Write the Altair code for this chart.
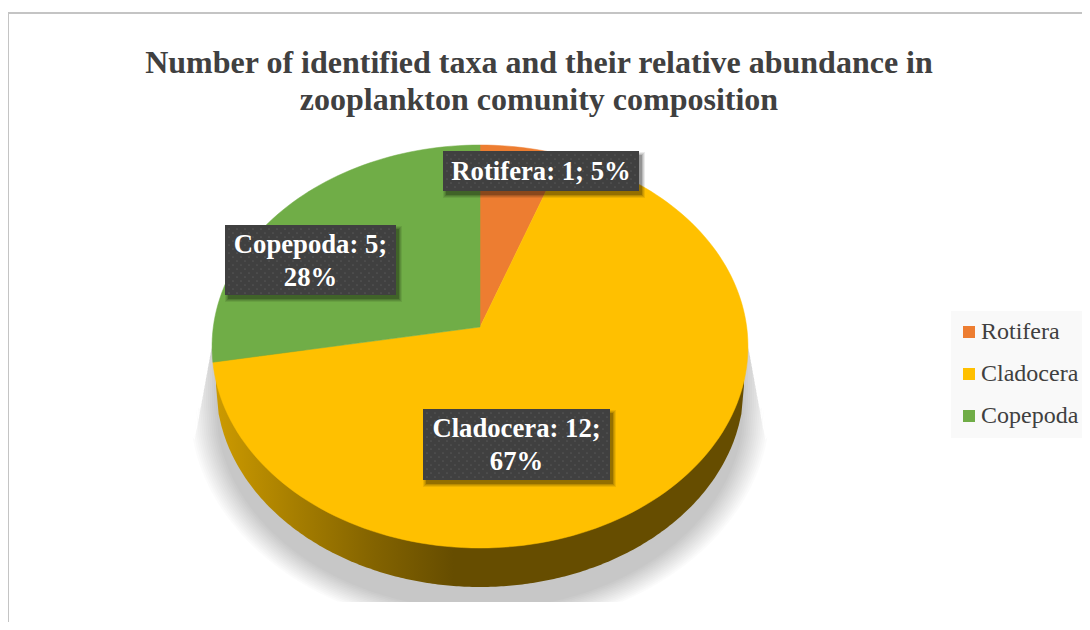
import math
import altair as alt
import pandas as pd

taxa = ["Rotifera", "Cladocera", "Copepoda"]
counts = [1, 12, 5]
colors = ["#ED7D31", "#FFC000", "#70AD47"]
label_texts = [["Rotifera: 1; 5%"], ["Cladocera: 12;", "67%"], ["Copepoda: 5;", "28%"]]
title_lines = ["Number of identified taxa and their relative abundance in",
               "zooplankton comunity composition"]

SERIF = "Liberation Serif"
W, H = 1074, 614
xs = alt.Scale(domain=[8, 8 + W], range=[0, W])
ys = alt.Scale(domain=[8, 8 + H], range=[0, H])
X = lambda f="x": alt.X(f + ":Q", scale=xs, axis=None)
Y = lambda f="y": alt.Y(f + ":Q", scale=ys, axis=None)

# perspective view of a circular disc
CX, CY = 480.0, 327.0
K, A, B = 0.0968, 266.7, 199.6
def project(theta):
    w = 1 + K * math.cos(theta)
    return CX + A * math.sin(theta) / w, CY - B * math.cos(theta) / w

rows = []
start = 0.0
total = sum(counts)
for name, c in zip(taxa, counts):
    sweep = c / total * 2 * math.pi
    steps = max(3, int(c * 12))
    order = 0
    rows.append(dict(taxon=name, x=CX, y=CY, o=order))
    for i in range(steps + 1):
        order += 1
        px, py = project(start + sweep * i / steps)
        rows.append(dict(taxon=name, x=px, y=py, o=order))
    order += 1
    rows.append(dict(taxon=name, x=CX, y=CY, o=order))
    start += sweep
slices = pd.DataFrame(rows)

slice_layer = alt.Chart(slices).mark_line(strokeWidth=0.5, interpolate="linear").encode(
    x=X(), y=Y(), order="o:Q",
    stroke=alt.Stroke("taxon:N", scale=alt.Scale(domain=taxa, range=colors), legend=None),
    fill=alt.Fill("taxon:N", scale=alt.Scale(domain=taxa, range=colors), legend=alt.Legend(
        title=None, orient="none", legendX=949, legendY=312, symbolType="square", symbolSize=144,
        labelFont=SERIF, labelFontSize=24, labelColor="#404040",
        rowPadding=18, padding=0, symbolOpacity=1, symbolStrokeWidth=0, labelOffset=0,
        zindex=1)),
)

# legend background
legend_bg = alt.Chart(pd.DataFrame({"x": [951], "x2": [1089], "y": [311], "y2": [438]})).mark_rect(
    color="#F9F9F9").encode(x=X(), x2="x2:Q", y=Y(), y2="y2:Q")

# side wall: lower disc
wall = pd.DataFrame([
    dict(x=480 + 264 * (i / 100 - 1), y=385.5 + 201.5 * math.sqrt(max(0, 1 - (i / 100 - 1) ** 2)), y2=350.0)
    for i in range(201)
])
wall_layer = alt.Chart(wall).mark_area(
    interpolate="linear",
    color=alt.Gradient(gradient="linear", x1=0, x2=1, y1=0, y2=0, stops=[
        alt.GradientStop(offset=0, color="#CC9A00"),
        alt.GradientStop(offset=0.15, color="#A67E00"),
        alt.GradientStop(offset=0.3, color="#836300"),
        alt.GradientStop(offset=0.45, color="#664D00"),
        alt.GradientStop(offset=1, color="#664D00"),
    ]),
).encode(x=X(), y=Y(), y2="y2:Q")

# soft grey shadow under the disc
shadow_layers = []
for grow in range(26, -1, -2):
    rx, ry = 264 + grow, 201.5 + grow * 0.8
    pts = []
    for i in range(241):
        u = i / 120 - 1
        px = 480 + rx * u
        top = 345 + 110 * max(0, (abs(u) * rx - 268) / 20)
        bottom = min(602, 408 + ry * math.sqrt(max(0, 1 - u * u)))
        pts.append(dict(x=px, y=bottom, y2=min(top, bottom)))
    shadow_layers.append(alt.Chart(pd.DataFrame(pts)).mark_area(color="#000000", opacity=0.016, interpolate="linear")
                         .encode(x=X(), y=Y(), y2="y2:Q"))

# chart frame
frame = alt.Chart(pd.DataFrame({"x": [8, 8, 1090], "y": [630, 13, 13], "o": [0, 1, 2]})).mark_line(
    color="#C4C4C4", strokeWidth=2).encode(x=X(), y=Y(), order="o:Q")

# data label boxes
boxes = pd.DataFrame({
    "taxon": taxa,
    "x": [443, 423, 225], "x2": [639, 610, 396],
    "y": [151, 409, 225], "y2": [191, 480, 295],
})
def box_layer(dx, dy, grow, op, color):
    d = boxes.assign(x=boxes.x + dx - grow, x2=boxes.x2 + dx + grow, y=boxes.y + dy - grow, y2=boxes.y2 + dy + grow)
    return alt.Chart(d).mark_rect(color=color, opacity=op).encode(x=X(), x2="x2:Q", y=Y(), y2="y2:Q")
box_layers = [box_layer(3, 4, g, op, "#000000") for g, op in [(3, 0.08), (2, 0.1), (1, 0.12), (0, 0.2)]]
box_layers.append(box_layer(0, 0, 0, 1, "#404040"))

dots = []
for _, b in boxes.iterrows():
    row = 0
    yy = b.y + 4
    while yy < b.y2 - 1:
        xx = b.x + (4 if row % 2 == 0 else 8)
        while xx < b.x2 - 1:
            dots.append(dict(x=xx, y=yy))
            xx += 8
        yy += 4
        row += 1
dot_layer = alt.Chart(pd.DataFrame(dots)).mark_point(filled=True, color="#5C5C5C", size=3, opacity=0.8).encode(x=X(), y=Y())

labels = []
for (_, b), lines in zip(boxes.iterrows(), label_texts):
    mid = (b.x + b.x2) / 2
    n = len(lines)
    for i, t in enumerate(lines):
        labels.append(dict(x=mid, y=(b.y + b.y2) / 2 + 1 + (i - (n - 1) / 2) * 33, t=t))
label_layer = alt.Chart(pd.DataFrame(labels)).mark_text(
    font=SERIF, fontWeight="bold", fontSize=26.7, color="#FFFFFF", baseline="middle", align="center"
).encode(x=X(), y=Y(), text="t:N")

title_df = pd.DataFrame({"x": [539, 539], "y": [63, 100], "t": title_lines})
title_layer = alt.Chart(title_df).mark_text(
    font=SERIF, fontWeight="bold", fontSize=32, color="#404040", baseline="middle", align="center"
).encode(x=X(), y=Y(), text="t:N")

chart = alt.layer(
    frame, legend_bg, *shadow_layers, wall_layer, slice_layer, *box_layers, dot_layer, label_layer, title_layer
).properties(
    width=W, height=H, padding=0, autosize=alt.AutoSizeParams(type="none")
).configure_view(stroke=None)

chart.save("out.html", embed_options={"renderer": "svg", "actions": False})
